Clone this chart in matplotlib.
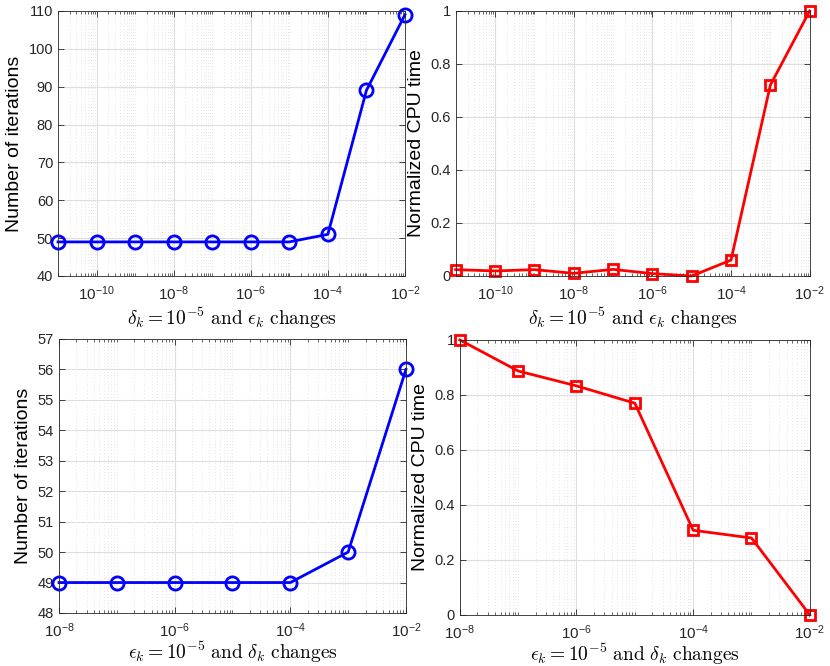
import numpy as np
import matplotlib
matplotlib.use("Agg")
import matplotlib.pyplot as plt
from matplotlib.ticker import FixedLocator, FuncFormatter

plt.rcParams['font.family'] = ['Liberation Sans', 'DejaVu Sans']
plt.rcParams['mathtext.fontset'] = 'cm'

# data
eps_vals = [1e-11, 1e-10, 1e-9, 1e-8, 1e-7, 1e-6, 1e-5, 1e-4, 1e-3, 1e-2]
eps_iters = [49, 49, 49, 49, 49, 49, 49, 51, 89, 109]
eps_cpu = [0.024, 0.019, 0.024, 0.010, 0.025, 0.009, 0.0, 0.060, 0.72, 1.0]

delta_vals = [1e-8, 1e-7, 1e-6, 1e-5, 1e-4, 1e-3, 1e-2]
delta_iters = [49, 49, 49, 49, 49, 50, 56]
delta_cpu = [1.0, 0.887, 0.833, 0.770, 0.308, 0.280, 0.0]

xlab_top = r'$\delta_k = 10^{-5}\ \mathrm{and}\ \epsilon_k\ \mathrm{changes}$'
xlab_bot = r'$\epsilon_k = 10^{-5}\ \mathrm{and}\ \delta_k\ \mathrm{changes}$'

dark = (0.15, 0.15, 0.15)

def sup_fmt(v, pos):
	e = int(round(np.log10(v)))
	return r'$\mathregular{10^{%d}}$' % e

def setup_ax(ax, lo, hi, yticks, ylim):
	ax.set_xscale('log')
	ax.set_xlim(10.0**lo, 10.0**hi)
	ax.set_ylim(*ylim)
	majors = [10.0**e for e in range(hi, lo - 1, -2) if e >= lo]
	minors = []
	for e in range(lo, hi):
		for m in range(1, 10):
			v = m * 10.0**e
			if not any(abs(v - mj) / mj < 1e-6 for mj in majors):
				minors.append(v)
	ax.xaxis.set_major_locator(FixedLocator(majors))
	ax.xaxis.set_minor_locator(FixedLocator(minors))
	ax.xaxis.set_major_formatter(FuncFormatter(sup_fmt))
	ax.xaxis.set_minor_formatter(FuncFormatter(lambda v, p: ''))
	ax.set_yticks(yticks)
	ax.tick_params(which='both', direction='in', top=True, right=True, colors=dark, labelsize=10.5)
	ax.tick_params(which='major', length=4, width=0.6)
	ax.tick_params(which='minor', length=2.5, width=0.5)
	ax.tick_params(axis='x', pad=6, labelsize=11)
	ax.grid(True, which='major', color=(0.87, 0.87, 0.87), linewidth=0.8)
	ax.grid(True, which='minor', axis='x', color=(0.8, 0.8, 0.8), linestyle=(0, (1, 3.5)), linewidth=0.5)
	ax.set_axisbelow(True)
	for s in ax.spines.values():
		s.set_color(dark)
		s.set_linewidth(0.6)

fig = plt.figure(figsize=(8.30, 6.66), dpi=100)

ax1 = fig.add_axes([0.0699, 0.5856, 0.418, 0.398])
ax2 = fig.add_axes([0.549, 0.5856, 0.4265, 0.398])
ax3 = fig.add_axes([0.0711, 0.0796, 0.418, 0.4114])
ax4 = fig.add_axes([0.554, 0.0766, 0.4217, 0.413])

setup_ax(ax1, -11, -2, np.arange(40, 111, 10), (40, 110))
ax1.plot(eps_vals, eps_iters, '-o', color='blue', linewidth=2, markersize=9.5,
	markerfacecolor='none', markeredgewidth=2, clip_on=False)
ax1.set_ylabel('Number of iterations', fontsize=14, labelpad=4)
ax1.set_xlabel(xlab_top, fontsize=14, labelpad=2)

setup_ax(ax2, -11, -2, np.arange(0, 1.01, 0.2), (0, 1))
ax2.plot(eps_vals, eps_cpu, '-s', color='red', linewidth=2, markersize=7.5,
	markerfacecolor='none', markeredgewidth=2, clip_on=False)
ax2.set_ylabel('Normalized CPU time', fontsize=14, labelpad=4)
ax2.set_xlabel(xlab_top, fontsize=14, labelpad=2)
ax2.yaxis.set_major_formatter(FuncFormatter(lambda v, p: '%g' % round(v, 1)))

setup_ax(ax3, -8, -2, np.arange(48, 58, 1), (48, 57))
ax3.plot(delta_vals, delta_iters, '-o', color='blue', linewidth=2, markersize=9.5,
	markerfacecolor='none', markeredgewidth=2, clip_on=False)
ax3.set_ylabel('Number of iterations', fontsize=14, labelpad=4)
ax3.set_xlabel(xlab_bot, fontsize=14, labelpad=0)

setup_ax(ax4, -8, -2, np.arange(0, 1.01, 0.2), (0, 1))
ax4.plot(delta_vals, delta_cpu, '-s', color='red', linewidth=2, markersize=7.5,
	markerfacecolor='none', markeredgewidth=2, clip_on=False)
ax4.set_ylabel('Normalized CPU time', fontsize=14, labelpad=4)
ax4.set_xlabel(xlab_bot, fontsize=14, labelpad=0)
ax4.yaxis.set_major_formatter(FuncFormatter(lambda v, p: '%g' % round(v, 1)))

plt.savefig('out.png', dpi=100)
plt.close()
